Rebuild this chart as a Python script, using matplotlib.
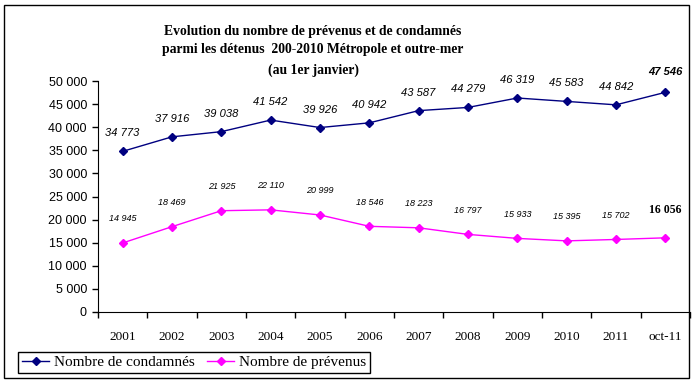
import matplotlib

matplotlib.use("Agg")
import matplotlib.pyplot as plt
from matplotlib.patches import Rectangle
from matplotlib.ticker import FuncFormatter, FixedLocator

W, H = 696, 383

years = ["2001", "2002", "2003", "2004", "2005", "2006",
         "2007", "2008", "2009", "2010", "2011", "oct-11"]
condamnes = [34773, 37916, 39038, 41542, 39926, 40942,
             43587, 44279, 46319, 45583, 44842, 47546]
prevenus = [14945, 18469, 21925, 22110, 20999, 18546,
            18223, 16797, 15933, 15395, 15702, 16056]

title_lines = [
    "Evolution du nombre de prévenus et de condamnés",
    "parmi les détenus  200-2010 Métropole et outre-mer",
    "(au 1er janvier)",
]

NAVY = "#000080"
MAGENTA = "#FF00FF"


def fmt(v):
    return f"{int(v):,}".replace(",", " ")


fig = plt.figure(figsize=(W / 100, H / 100), dpi=100)

# outer frame
fig.patches.append(Rectangle((4 / W, 1 - 378 / H), 685 / W, 373 / H,
                             transform=fig.transFigure, fill=False,
                             edgecolor="black", linewidth=1))

ax = fig.add_axes([98 / W, 1 - 312 / H, 592 / W, 231 / H])
xs = [i + 0.5 for i in range(len(years))]

ax.plot(xs, condamnes, color=NAVY, marker="D", markersize=4, linewidth=1,
        label="Nombre de condamnés")
ax.plot(xs, prevenus, color=MAGENTA, marker="D", markersize=4, linewidth=1,
        label="Nombre de prévenus")

ax.set_xlim(0, len(years))
ax.set_ylim(0, 50000)

# value labels
for i, (x, v) in enumerate(zip(xs, condamnes)):
    last = i == len(xs) - 1
    ax.annotate(fmt(v), (x, v), xytext=(0, 20 if last else 18),
                textcoords="offset pixels", ha="center", va="center",
                fontsize=8, style="italic",
                fontweight="bold" if last else "normal",
                family="Liberation Sans")
for i, (x, v) in enumerate(zip(xs, prevenus)):
    last = i == len(xs) - 1
    if last:
        ax.annotate(fmt(v), (x, v), xytext=(0, 28), textcoords="offset pixels",
                    ha="center", va="center", fontsize=8.5, fontweight="bold",
                    family="Liberation Serif")
    else:
        ax.annotate(fmt(v), (x, v), xytext=(0, 24), textcoords="offset pixels",
                    ha="center", va="center", fontsize=6.5, style="italic",
                    family="Liberation Sans")

# axes styling
ax.spines["top"].set_visible(False)
ax.spines["right"].set_visible(False)
ax.xaxis.set_major_locator(FixedLocator(range(len(years) + 1)))
ax.xaxis.set_minor_locator(FixedLocator(xs))
ax.xaxis.set_major_formatter(FuncFormatter(lambda v, p: ""))
ax.set_xticks(xs, years, minor=True)
ax.tick_params(axis="x", which="major", direction="out", length=4, width=1)
ax.tick_params(axis="x", which="minor", length=0, pad=14, labelsize=9.5)
for lbl in ax.get_xticklabels(minor=True):
    lbl.set_family("Liberation Serif")

ax.set_yticks(range(0, 50001, 5000))
ax.yaxis.set_major_formatter(FuncFormatter(lambda v, p: fmt(v)))
ax.tick_params(axis="y", direction="out", length=4, width=1, labelsize=9, pad=4)
for lbl in ax.get_yticklabels():
    lbl.set_family("Liberation Sans")

# title
for y, line in zip([31, 50, 70], title_lines):
    fig.text(313 / W, 1 - y / H, line, ha="center", va="center",
             fontsize=9.8, fontweight="bold", family="Liberation Serif")

leg = fig.legend(loc="lower left", bbox_to_anchor=(18 / W, 1 - 373 / H),
                 ncol=2, frameon=True, fancybox=False, edgecolor="black",
                 framealpha=1, borderpad=0.25, borderaxespad=0,
                 handlelength=1.8, columnspacing=0.8, handletextpad=0.3,
                 prop={"family": "Liberation Serif", "size": 11})
leg.get_frame().set_linewidth(1)

fig.savefig("out.png", dpi=100)
